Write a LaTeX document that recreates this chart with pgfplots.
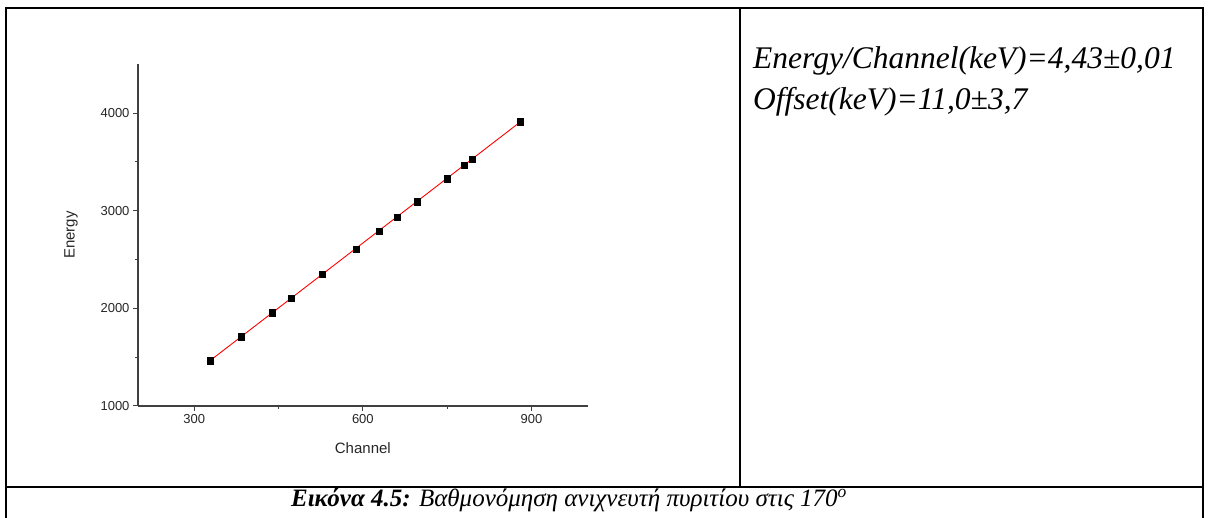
\documentclass[border=0pt]{standalone}
\usepackage{fontspec}
\setmainfont{Liberation Serif}
\newfontfamily\arial{Liberation Sans}
\usepackage{pgfplots}
\pgfplotsset{compat=1.18}
\begin{document}
\begin{tikzpicture}[x=1pt,y=1pt]
\useasboundingbox (0,0) rectangle (1209,518);
% table frame
\draw[line width=2.8pt] (6,0) -- (6,510) -- (1203,510) -- (1203,0);
\draw[line width=2.8pt] (6,31) -- (1203,31);
\draw[line width=2pt] (740,510) -- (740,31);

\begin{axis}[
    at={(138pt,112pt)}, anchor=south west,
    scale only axis, width=449.7pt, height=341.7pt,
    xmin=200, xmax=1000, ymin=1000, ymax=4500,
    axis x line=bottom, axis y line=left,
    axis line style={-, black!75, line width=1.3pt},
    xtick={300,600,900}, minor xtick={450,750},
    ytick={1000,2000,3000,4000}, minor ytick={1500,2500,3500},
    tick align=outside, major tick length=5pt, minor tick length=3pt,
    tick style={black!75, line width=1pt},
    /pgf/number format/assume math mode=true,
    /pgf/number format/1000 sep={},
    tick label style={font=\arial\fontsize{13}{15}\selectfont, text=black!85},
    xlabel={Channel}, ylabel={Energy},
    every axis x label/.style={at={(axis description cs:0.5,0)}, yshift=-36pt, anchor=north, inner sep=0pt,
        font=\arial\fontsize{15}{17}\selectfont, text=black!85},
    every axis y label/.style={at={(axis description cs:0,0.5)}, xshift=-67pt, rotate=90, anchor=center, inner sep=0pt,
        font=\arial\fontsize{15}{17}\selectfont, text=black!85},
    clip=false,
]
% measured points
\addplot[only marks, mark=square*, mark size=3.1pt, black] coordinates {
(327.9,1464) (383.0,1710) (439.4,1956) (472.5,2103) (528.3,2349)
(588.8,2603) (628.5,2793) (661.7,2936) (697.3,3093) (749.4,3329)
(780.2,3467) (793.9,3528) (880.5,3913)
};
% linear fit
\addplot[red, line width=0.9pt] coordinates {(327.9,1463.6) (880.5,3911.6)};
\end{axis}

\node[anchor=base west, inner sep=0pt] at (753,449)
  {\fontsize{31.5}{36}\selectfont\itshape Energy/Channel(keV)=4,43±0,01};
\node[anchor=base west, inner sep=0pt] at (753,408)
  {\fontsize{31.5}{36}\selectfont\itshape Offset(keV)=11,0±3,7};

\node[anchor=base, inner sep=0pt] at (569,11)
  {\fontsize{25}{28}\selectfont\textbf{\textit{Εικόνα 4.5:}} \textit{Βαθμονόμηση ανιχνευτή πυριτίου στις 170\textsuperscript{o}}};
\end{tikzpicture}
\end{document}
